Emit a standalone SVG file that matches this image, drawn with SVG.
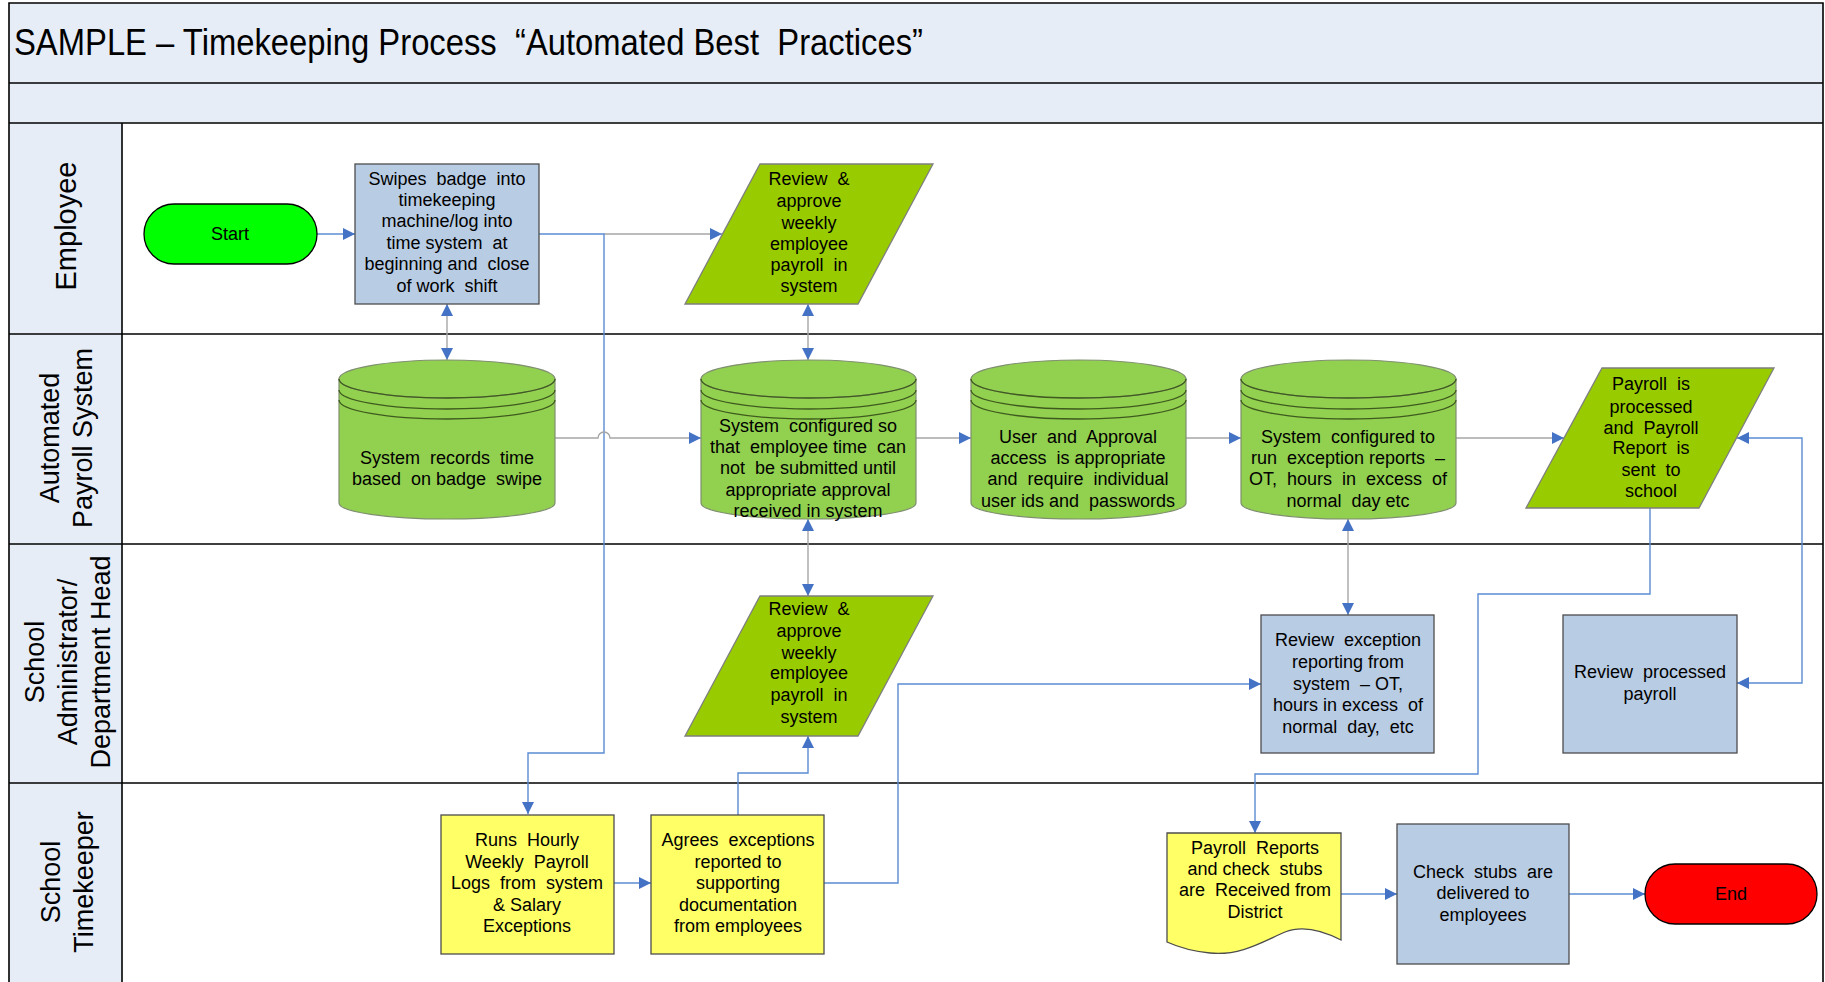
<svg xmlns="http://www.w3.org/2000/svg" width="1825" height="982" viewBox="0 0 1825 982">
<style>
.band{fill:#E6EDF7}
.frame{stroke:#000;stroke-width:1.6;fill:none}
.t{font-family:"Liberation Sans",Arial,sans-serif;font-size:18px;fill:#000;text-anchor:middle;white-space:pre}
.lane{font-family:"Liberation Sans",Arial,sans-serif;font-size:27px;fill:#000;text-anchor:middle}
.blue{fill:#B8CCE4;stroke:#4D4D4D;stroke-width:1.3}
.para{fill:#99CC00;stroke:#7F7F7F;stroke-width:1.3}
.cyl{fill:#92D050;stroke:#7F8F6F;stroke-width:1.2}
.arc{fill:none;stroke:#3F5A1E;stroke-width:1.3}
.yel{fill:#FFFF66;stroke:#4D4D4D;stroke-width:1.3}
.cb{fill:none;stroke:#5B8CD2;stroke-width:1.4}
.cg{fill:none;stroke:#A6A6A6;stroke-width:1.4}
</style>
<defs>
<marker id="arr" viewBox="0 0 12 12" refX="12" refY="6" markerWidth="13" markerHeight="12" markerUnits="userSpaceOnUse" orient="auto-start-reverse">
<path d="M0,0 L12,6 L0,12 z" fill="#4472C4"/>
</marker>
</defs>
<rect x="0" y="0" width="1825" height="982" fill="#fff"/>
<g id="frame">
<rect class="band" x="9" y="3" width="1814" height="120"/>
<rect class="band" x="9" y="123" width="113" height="859"/>
<path class="frame" d="M9,982 V3 H1823 V982 M9,83 H1823 M9,123 H1823 M9,334 H1823 M9,544 H1823 M9,783 H1823 M122,123 V982"/>
<text xml:space="preserve" x="14" y="55" font-family="Liberation Sans, Arial, sans-serif" font-size="36" textLength="909" lengthAdjust="spacingAndGlyphs">SAMPLE – Timekeeping Process  “Automated Best  Practices”</text>
</g>
<g id="lanes">
<text class="lane" style="font-size:29px" transform="translate(76,226) rotate(-90)">Employee</text>
<text class="lane" transform="translate(59,438) rotate(-90)">Automated</text>
<text class="lane" transform="translate(92,438) rotate(-90)">Payroll System</text>
<text class="lane" transform="translate(44,662) rotate(-90)">School</text>
<text class="lane" transform="translate(77,662) rotate(-90)">Administrator/</text>
<text class="lane" transform="translate(110,662) rotate(-90)">Department Head</text>
<text class="lane" transform="translate(60,882) rotate(-90)">School</text>
<text class="lane" transform="translate(93,882) rotate(-90)">Timekeeper</text>
</g>
<g id="connectors">
<path class="cb" d="M317,234 H355" marker-end="url(#arr)"/>
<path class="cg" d="M604,234 H722" marker-end="url(#arr)"/>
<path class="cb" d="M539,234 H604 V753 H528 V814" marker-end="url(#arr)"/>
<path class="cg" d="M447,304 V360" marker-start="url(#arr)" marker-end="url(#arr)"/>
<path class="cg" d="M808,304 V360" marker-start="url(#arr)" marker-end="url(#arr)"/>
<path class="cg" d="M808,519 V596" marker-start="url(#arr)" marker-end="url(#arr)"/>
<path class="cg" d="M555,438 H598 A6,6 0 0 1 610,438 H701" marker-end="url(#arr)"/>
<path class="cg" d="M916,438 H971" marker-end="url(#arr)"/>
<path class="cg" d="M1186,438 H1241" marker-end="url(#arr)"/>
<path class="cg" d="M1456,438 H1564" marker-end="url(#arr)"/>
<path class="cg" d="M1348,519 V615" marker-start="url(#arr)" marker-end="url(#arr)"/>
<path class="cb" d="M1737,438 H1802 V683 H1737" marker-start="url(#arr)" marker-end="url(#arr)"/>
<path class="cb" d="M1650,508 V594 H1478 V774 H1255 V833" marker-end="url(#arr)"/>
<path class="cb" d="M614,883 H651" marker-end="url(#arr)"/>
<path class="cb" d="M738,815 V773 H808 V736" marker-end="url(#arr)"/>
<path class="cb" d="M824,883 H898 V684 H1261" marker-end="url(#arr)"/>
<path class="cb" d="M1341,894 H1397" marker-end="url(#arr)"/>
<path class="cb" d="M1569,894 H1645" marker-end="url(#arr)"/>
</g>
<g id="start">
<rect x="144" y="204" width="173" height="60" rx="30" fill="#00FF00" stroke="#000" stroke-width="1.3"/>
<text class="t" x="230" y="240">Start</text>
</g>
<g id="swipes">
<rect class="blue" x="355" y="164" width="184" height="140"/>
<text class="t" x="447" y="185">Swipes  badge  into</text>
<text class="t" x="447" y="206">timekeeping</text>
<text class="t" x="447" y="227">machine/log into</text>
<text class="t" x="447" y="249">time system  at</text>
<text class="t" x="447" y="270">beginning and  close</text>
<text class="t" x="447" y="292">of work  shift</text>
</g>
<g id="review-approve-1">
<path class="para" d="M760,164 H933 L858,304 H685 Z"/>
<text class="t" x="809" y="185">Review  &amp;</text>
<text class="t" x="809" y="207">approve</text>
<text class="t" x="809" y="229">weekly</text>
<text class="t" x="809" y="250">employee</text>
<text class="t" x="809" y="271">payroll  in</text>
<text class="t" x="809" y="292">system</text>
</g>
<g id="cyl-records">
<path class="cyl" d="M339,379 V503 A108,16 0 0 0 555,503 V379 Z"/>
<ellipse class="cyl" cx="447" cy="379" rx="108" ry="19"/>
<path class="arc" d="M339,379 A108,19 0 0 0 555,379 M339,390 A108,19 0 0 0 555,390 M339,400 A108,19 0 0 0 555,400"/>
<text class="t" x="447" y="464">System  records  time</text>
<text class="t" x="447" y="485">based  on badge  swipe</text>
</g>
<g id="cyl-configured">
<path class="cyl" d="M701,379 V503 A107.5,16 0 0 0 916,503 V379 Z"/>
<ellipse class="cyl" cx="808.5" cy="379" rx="107.5" ry="19"/>
<path class="arc" d="M701,379 A107.5,19 0 0 0 916,379 M701,390 A107.5,19 0 0 0 916,390 M701,400 A107.5,19 0 0 0 916,400"/>
<text class="t" x="808" y="432">System  configured so</text>
<text class="t" x="808" y="453">that  employee time  can</text>
<text class="t" x="808" y="474">not  be submitted until</text>
<text class="t" x="808" y="496">appropriate approval</text>
<text class="t" x="808" y="517">received in system</text>
</g>
<g id="cyl-access">
<path class="cyl" d="M971,379 V503 A107.5,16 0 0 0 1186,503 V379 Z"/>
<ellipse class="cyl" cx="1078.5" cy="379" rx="107.5" ry="19"/>
<path class="arc" d="M971,379 A107.5,19 0 0 0 1186,379 M971,390 A107.5,19 0 0 0 1186,390 M971,400 A107.5,19 0 0 0 1186,400"/>
<text class="t" x="1078" y="443">User  and  Approval</text>
<text class="t" x="1078" y="464">access  is appropriate</text>
<text class="t" x="1078" y="485">and  require  individual</text>
<text class="t" x="1078" y="507">user ids and  passwords</text>
</g>
<g id="cyl-exception">
<path class="cyl" d="M1241,379 V503 A107.5,16 0 0 0 1456,503 V379 Z"/>
<ellipse class="cyl" cx="1348.5" cy="379" rx="107.5" ry="19"/>
<path class="arc" d="M1241,379 A107.5,19 0 0 0 1456,379 M1241,390 A107.5,19 0 0 0 1456,390 M1241,400 A107.5,19 0 0 0 1456,400"/>
<text class="t" x="1348" y="443">System  configured to</text>
<text class="t" x="1348" y="464">run  exception reports  –</text>
<text class="t" x="1348" y="485">OT,  hours  in  excess  of</text>
<text class="t" x="1348" y="507">normal  day etc</text>
</g>
<g id="payroll-processed">
<path class="para" d="M1602,368 H1774 L1699,508 H1526 Z"/>
<text class="t" x="1651" y="390">Payroll  is</text>
<text class="t" x="1651" y="413">processed</text>
<text class="t" x="1651" y="434">and  Payroll</text>
<text class="t" x="1651" y="454">Report  is</text>
<text class="t" x="1651" y="476">sent  to</text>
<text class="t" x="1651" y="497">school</text>
</g>
<g id="review-approve-2">
<path class="para" d="M760,596 H933 L858,736 H685 Z"/>
<text class="t" x="809" y="615">Review  &amp;</text>
<text class="t" x="809" y="637">approve</text>
<text class="t" x="809" y="659">weekly</text>
<text class="t" x="809" y="679">employee</text>
<text class="t" x="809" y="701">payroll  in</text>
<text class="t" x="809" y="723">system</text>
</g>
<g id="review-exception">
<rect class="blue" x="1261" y="615" width="173" height="138"/>
<text class="t" x="1348" y="646">Review  exception</text>
<text class="t" x="1348" y="668">reporting from</text>
<text class="t" x="1348" y="690">system  – OT,</text>
<text class="t" x="1348" y="711">hours in excess  of</text>
<text class="t" x="1348" y="733">normal  day,  etc</text>
</g>
<g id="review-processed">
<rect class="blue" x="1563" y="615" width="174" height="138"/>
<text class="t" x="1650" y="678">Review  processed</text>
<text class="t" x="1650" y="700">payroll</text>
</g>
<g id="runs-hourly">
<rect class="yel" x="441" y="815" width="173" height="139"/>
<text class="t" x="527" y="846">Runs  Hourly</text>
<text class="t" x="527" y="868">Weekly  Payroll</text>
<text class="t" x="527" y="889">Logs  from  system</text>
<text class="t" x="527" y="911">&amp; Salary</text>
<text class="t" x="527" y="932">Exceptions</text>
</g>
<g id="agrees">
<rect class="yel" x="651" y="815" width="173" height="139"/>
<text class="t" x="738" y="846">Agrees  exceptions</text>
<text class="t" x="738" y="868">reported to</text>
<text class="t" x="738" y="889">supporting</text>
<text class="t" x="738" y="911">documentation</text>
<text class="t" x="738" y="932">from employees</text>
</g>
<g id="payroll-reports">
<path class="yel" d="M1167,833 H1341 V940 C1318,928 1300,926 1285,932 C1262,942 1240,956 1210,953 C1190,951 1178,947 1167,942 Z"/>
<text class="t" x="1255" y="854">Payroll  Reports</text>
<text class="t" x="1255" y="875">and check  stubs</text>
<text class="t" x="1255" y="896">are  Received from</text>
<text class="t" x="1255" y="918">District</text>
</g>
<g id="check-stubs">
<rect class="blue" x="1397" y="824" width="172" height="140"/>
<text class="t" x="1483" y="878">Check  stubs  are</text>
<text class="t" x="1483" y="899">delivered to</text>
<text class="t" x="1483" y="921">employees</text>
</g>
<g id="end">
<rect x="1645" y="864" width="172" height="60" rx="30" fill="#FF0000" stroke="#000" stroke-width="1.3"/>
<text class="t" x="1731" y="900">End</text>
</g>
</svg>
